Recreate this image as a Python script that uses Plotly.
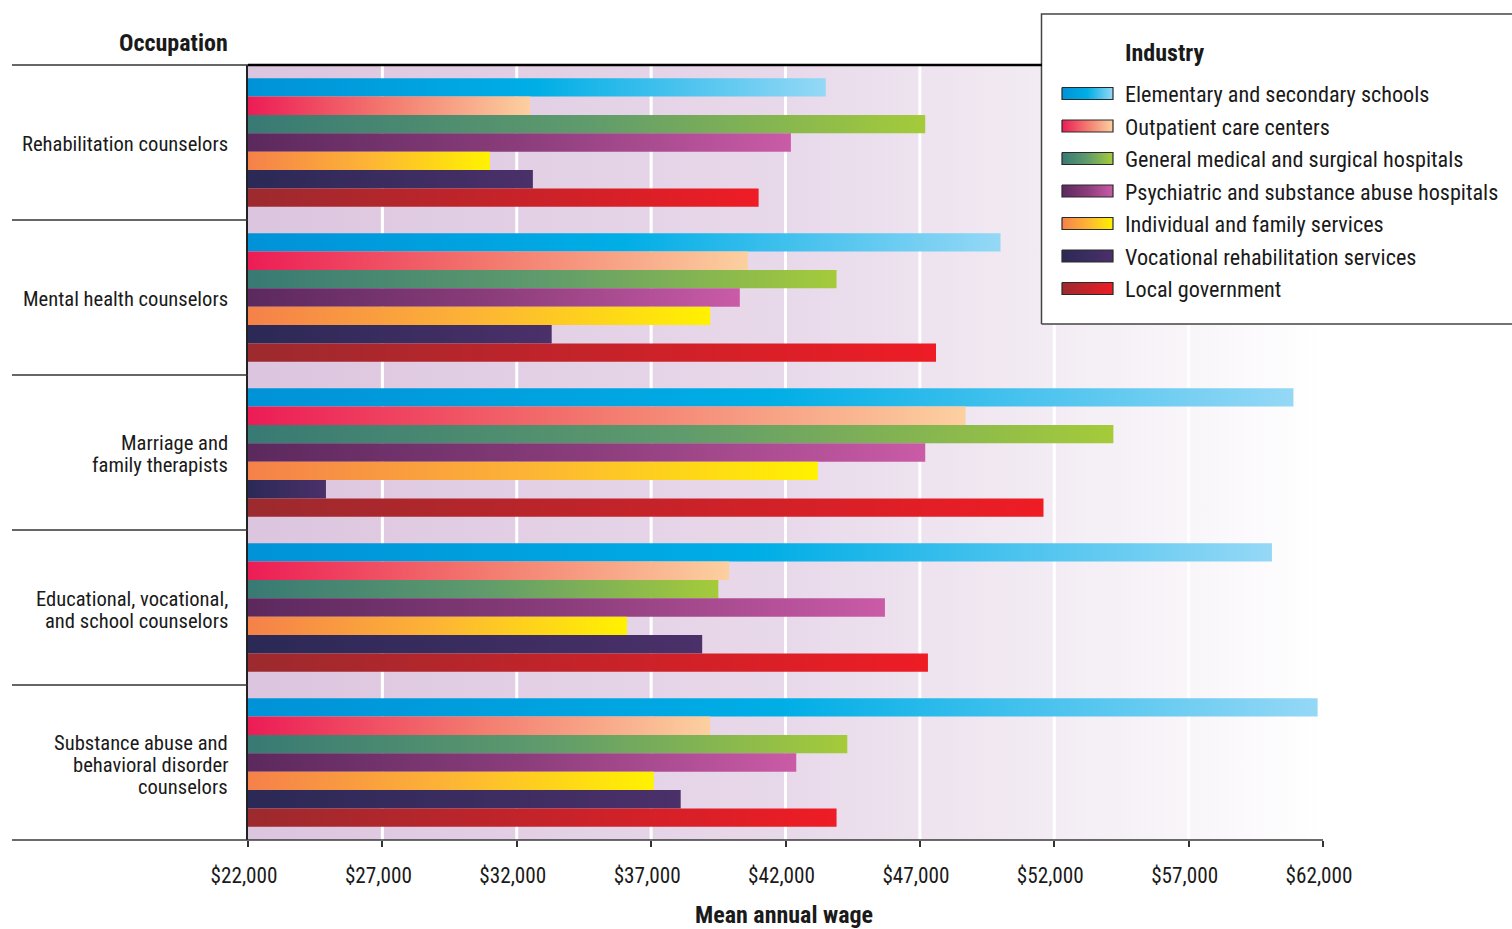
import plotly.graph_objects as go

# ---------------- data ----------------
categories = [
    "Rehabilitation counselors",
    "Mental health counselors",
    "Marriage and<br>family therapists",
    "Educational, vocational,<br>and school counselors",
    "Substance abuse and<br>behavioral disorder<br>counselors",
]
industries = [
    "Elementary and secondary schools",
    "Outpatient care centers",
    "General medical and surgical hospitals",
    "Psychiatric and substance abuse hospitals",
    "Individual and family services",
    "Vocational rehabilitation services",
    "Local government",
]
elementary = [43500, 50000, 60900, 60100, 61800]
outpatient = [32500, 40600, 48700, 39900, 39200]
general_hosp = [47200, 43900, 54200, 39500, 44300]
psychiatric = [42200, 40300, 47200, 45700, 42400]
individual_family = [31000, 39200, 43200, 36100, 37100]
vocational = [32600, 33300, 24900, 38900, 38100]
local_gov = [41000, 47600, 51600, 47300, 43900]

x_tick_values = [22000, 27000, 32000, 37000, 42000, 47000, 52000, 57000, 62000]
x_tick_labels = ["$22,000", "$27,000", "$32,000", "$37,000", "$42,000",
                 "$47,000", "$52,000", "$57,000", "$62,000"]
x_title = "Mean annual wage"
y_title = "Occupation"
legend_title = "Industry"

series_values = [elementary, outpatient, general_hosp, psychiatric,
                 individual_family, vocational, local_gov]

# ---------------- style ----------------
W, H = 1512, 929
FONT = "Roboto, Liberation Sans, sans-serif"
TXT = "#1a1a1a"
GRADIENTS = [
    [[0, "#0092d7"], [0.5, "#00aee6"], [1, "#95d8f6"]],
    [[0, "#ec1c55"], [0.5, "#f37b6f"], [1, "#fcd0a0"]],
    [[0, "#387a74"], [0.5, "#5f9b6c"], [1, "#a5cb3a"]],
    [[0, "#5b295d"], [0.5, "#8b3d7b"], [1, "#ca5ba7"]],
    [[0, "#f5814a"], [0.5, "#fdb535"], [1, "#fff200"]],
    [[0, "#2b2956"], [1, "#4b3069"]],
    [[0, "#9c2a2e"], [1, "#ee1c25"]],
]
BG = [[0, "#dcc5df"], [0.5, "#e8d9ea"], [0.75, "#f3ecf4"], [1, "#ffffff"]]
PL, PR, PT, PB = 248, 1323, 65, 840
SZ_CAT = 20.6
SZ_LEG = 22.2
SZ_TICK = 21.2
SZ_BOLD = 24


def cond(s):
    return f'<span style="font-stretch:condensed">{s}</span>'


def fx(p):
    return p / W


def fy(p):
    return 1 - p / H


n_cat = len(categories)
n_ser = len(industries)
BAR_FRAC = 0.83
bw = BAR_FRAC / n_ser
x0, x1 = x_tick_values[0], x_tick_values[-1]

fig = go.Figure()

# plot background gradient
fig.add_trace(go.Scatter(
    x=[x0, x1, x1, x0, x0], y=[-0.5, -0.5, n_cat - 0.5, n_cat - 0.5, -0.5],
    mode="lines", line=dict(width=0), fill="toself",
    fillgradient=dict(type="horizontal", colorscale=BG),
    hoverinfo="skip", showlegend=False))

# white gridlines at the ticks
gx, gy = [], []
for t in x_tick_values[1:-1]:
    gx += [t, t, None]
    gy += [-0.5, n_cat - 0.5, None]
fig.add_trace(go.Scatter(x=gx, y=gy, mode="lines",
                         line=dict(color="white", width=3),
                         hoverinfo="skip", showlegend=False))

# gradient bars
for j, (name, vals) in enumerate(zip(industries, series_values)):
    for i, v in enumerate(vals):
        top = i - BAR_FRAC / 2 + j * bw
        bot = top + bw
        fig.add_trace(go.Scatter(
            x=[x0, v, v, x0, x0], y=[top, top, bot, bot, top],
            mode="lines", line=dict(width=0), fill="toself",
            fillgradient=dict(type="horizontal", colorscale=GRADIENTS[j]),
            name=name, hoveron="fills",
            text=f"{name}: ${v:,}", hoverinfo="text",
            showlegend=False))

annotations = []
shapes = []

# category labels
LINE_SP = 22
for i, lab in enumerate(categories):
    lines = lab.split("<br>")
    n = len(lines)
    for k, ln in enumerate(lines):
        annotations.append(dict(
            text=cond(ln), xref="paper", yref="y", x=fx(230), y=i,
            xanchor="right", yanchor="middle",
            yshift=((n - 1) / 2 - k) * LINE_SP - 2,
            showarrow=False, font=dict(family=FONT, size=SZ_CAT, color=TXT)))

annotations.append(dict(text=cond(y_title), xref="paper", yref="paper",
                        x=fx(230), y=fy(43), xanchor="right", yanchor="middle",
                        showarrow=False,
                        font=dict(family=FONT, size=SZ_BOLD, color=TXT, weight="bold")))
annotations.append(dict(text=cond(x_title), xref="paper", yref="paper",
                        x=fx((PL + PR) / 2 - 2), y=fy(915), xanchor="center",
                        yanchor="middle", showarrow=False,
                        font=dict(family=FONT, size=SZ_BOLD, color=TXT, weight="bold")))

# frame lines
shapes.append(dict(type="line", xref="paper", yref="paper",
                   x0=fx(12), x1=fx(PL), y0=fy(PT), y1=fy(PT),
                   line=dict(color="#333", width=1.3), layer="above"))
shapes.append(dict(type="line", xref="paper", yref="paper",
                   x0=fx(PL), x1=fx(1042), y0=fy(PT), y1=fy(PT),
                   line=dict(color="#000", width=2.5), layer="above"))
shapes.append(dict(type="line", xref="paper", yref="paper",
                   x0=fx(12), x1=fx(PR), y0=fy(PB), y1=fy(PB),
                   line=dict(color="#3a3a3a", width=1.5), layer="above"))
for i in range(n_cat - 1):
    shapes.append(dict(type="line", xref="paper", yref="y",
                       x0=fx(12), x1=fx(PL), y0=i + 0.5, y1=i + 0.5,
                       line=dict(color="#333", width=1.3), layer="above"))

# ---------------- custom legend (second subplot, pixel units) ----------------
LX0, LY0, LY1 = 1041.5, 14, 324
fig.add_trace(go.Scatter(
    x=[LX0, LX0, 1530, 1530, LX0], y=[LY1, LY0, LY0, LY1, LY1],
    mode="lines", fill="toself", fillcolor="white",
    line=dict(color="#444", width=1.5),
    xaxis="x2", yaxis="y2", hoverinfo="skip", showlegend=False))
annotations.append(dict(text=cond(legend_title), xref="x2", yref="y2", x=1123, y=53,
                        xanchor="left", yanchor="middle", showarrow=False,
                        font=dict(family=FONT, size=SZ_BOLD, color=TXT, weight="bold")))
for j, name in enumerate(industries):
    cy = 93.5 + j * 32.5
    fig.add_trace(go.Scatter(
        x=[1062, 1113, 1113, 1062, 1062], y=[cy - 6, cy - 6, cy + 6, cy + 6, cy - 6],
        mode="lines", fill="toself",
        fillgradient=dict(type="horizontal", colorscale=GRADIENTS[j]),
        line=dict(color="#2a2a2a", width=1.2),
        xaxis="x2", yaxis="y2", hoverinfo="skip", showlegend=False))
    annotations.append(dict(text=cond(name), xref="x2", yref="y2", x=1123, y=cy + 1,
                            xanchor="left", yanchor="middle", showarrow=False,
                            font=dict(family=FONT, size=SZ_LEG, color=TXT)))

fig.update_layout(
    width=W, height=H, autosize=False,
    margin=dict(l=0, r=0, t=0, b=0, pad=0, autoexpand=False),
    paper_bgcolor="white", plot_bgcolor="rgba(0,0,0,0)",
    showlegend=False,
    font=dict(family=FONT, color=TXT),
    xaxis=dict(domain=[fx(PL), fx(PR)], range=[x0, x1],
               tickvals=x_tick_values, ticktext=[cond(t) for t in x_tick_labels],
               ticks="outside", ticklen=6, tickcolor="#333", tickwidth=1.5,
               showgrid=False, zeroline=False, showline=False,
               tickfont=dict(family=FONT, size=SZ_TICK, color=TXT),
               ticklabelstandoff=11, ticklabelshift=-4,
               fixedrange=True, anchor="y", automargin=False),
    yaxis=dict(domain=[fy(PB), fy(PT)], range=[n_cat - 0.5, -0.5],
               showticklabels=False, ticks="", showgrid=False, zeroline=False,
               showline=True, linecolor="#222", linewidth=2,
               fixedrange=True, anchor="x", automargin=False),
    xaxis2=dict(domain=[fx(1039), 1], range=[1039, 1512], visible=False,
                anchor="y2", fixedrange=True, automargin=False),
    yaxis2=dict(domain=[fy(326), fy(11)], range=[326, 11], visible=False,
                anchor="x2", fixedrange=True, automargin=False),
    annotations=annotations,
    shapes=shapes,
)

fig.write_html("out.html", config={"displayModeBar": False},
               post_script="document.body.style.margin='0';document.body.style.overflow='hidden';")
